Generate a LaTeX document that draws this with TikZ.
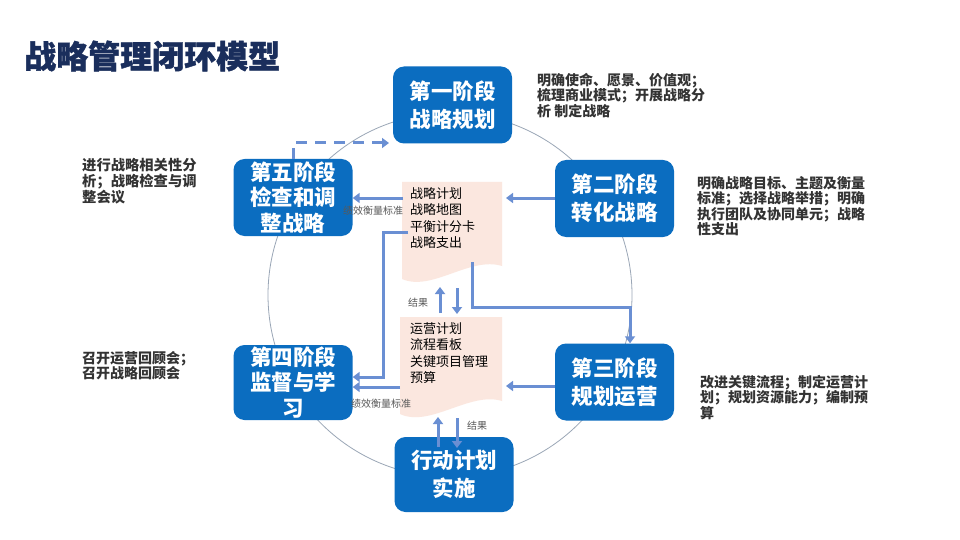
\documentclass[tikz,border=0pt]{standalone}
\usepackage{fontspec}
\setmainfont{Noto Sans CJK SC}
\newfontfamily\titlefont[BoldFeatures={FakeBold=1.2}]{Noto Sans CJK SC}
\usetikzlibrary{arrows.meta}
\definecolor{boxblue}{HTML}{0B6DC0}
\definecolor{titleblue}{HTML}{1A2E5C}
\definecolor{arrowblue}{HTML}{6A8FD3}
\definecolor{docfill}{HTML}{FBE7DF}
\definecolor{ringgray}{HTML}{9AA6B6}
\definecolor{sidetext}{HTML}{333333}
\begin{document}
\begin{tikzpicture}[x=1pt,y=-1pt,
  stagebox/.style={fill=boxblue, rounded corners=11pt, minimum width=119pt, minimum height=77pt,
    text=white, font=\fontsize{21.5}{28}\selectfont\bfseries, align=center, inner sep=0pt},
  stageboxthree/.style={stagebox, font=\fontsize{21.5}{25.5}\selectfont\bfseries},
  sidenote/.style={anchor=north west, inner sep=0pt, align=left, text=sidetext,
    font=\fontsize{14}{15.5}\selectfont\bfseries},
  doctext/.style={anchor=north west, inner sep=0pt, align=left, text=black,
    font=\fontsize{13}{16.5}\selectfont},
  smalllabel/.style={inner sep=0pt, text=black!65, font=\fontsize{10}{12}\selectfont},
  flow/.style={draw=arrowblue, line width=3pt, -{Triangle[length=7pt,width=10pt]}},
  flowdash/.style={flow, dash pattern=on 11pt off 8pt},
  ring/.style={draw=ringgray, line width=0.8pt},
  docshape/.style={fill=docfill}
]
\useasboundingbox (0,0) rectangle (960,540);
\fill[white] (0,0) rectangle (960,540);

% title
\node[anchor=west, inner sep=0pt, font=\fontsize{32}{32}\selectfont\titlefont\bfseries, text=titleblue] (title) at (24,56) {战略管理闭环模型};

% ring
\draw[ring] (450,295) circle[radius=182];

% documents
\fill[docshape] (402,182) -- (502,182) -- (502,266) .. controls (470,256) and (432,292) .. (402,279) -- cycle;
\fill[docshape] (400,317) -- (502,317) -- (502,401) .. controls (470,391) and (430,428) .. (400,414) -- cycle;

\node[doctext] (doca) at (410,187) {战略计划\\战略地图\\平衡计分卡\\战略支出};
\node[doctext] (docb) at (410,322) {运营计划\\流程看板\\关键项目管理\\预算};

% stage boxes
\node[stagebox] (s1) at (452.5,105) {第一阶段\\战略规划};
\node[stagebox] (s2) at (614.5,198.5) {第二阶段\\转化战略};
\node[stagebox] (s3) at (614.5,382) {第三阶段\\规划运营};
\node[stagebox, minimum height=75pt] (s4) at (454,474.5) {行动计划\\实施};
\node[stageboxthree] (s5) at (293,197.5) {第五阶段\\检查和调\\整战略};
\node[stageboxthree, minimum height=75pt] (s6) at (293,382.5) {第四阶段\\监督与学\\习};

% side notes
\node[sidenote] (n1) at (537,73) {明确使命、愿景、价值观；\\梳理商业模式；开展战略分\\析 制定战略};
\node[sidenote] (n2) at (697,176) {明确战略目标、主题及衡量\\标准；选择战略举措；明确\\执行团队及协同单元；战略\\性支出};
\node[sidenote] (n3) at (700,375) {改进关键流程；制定运营计\\划；规划资源能力；编制预\\算};
\node[sidenote, font=\fontsize{14.3}{16}\selectfont\bfseries] (n5) at (82,158) {进行战略相关性分\\析；战略检查与调\\整会议};
\node[sidenote] (n6) at (82,351) {召开运营回顾会；\\召开战略回顾会};

% connector coordinates
\coordinate (dashend) at (389,143);
\coordinate (daleft) at (403,198);
\coordinate (daright) at (506,198);
\coordinate (dascore) at (408,232);
\coordinate (daturn) at (383,232);
\coordinate (daout) at (472,262);
\coordinate (daturnb) at (630,307);
\coordinate (dbleft) at (400,387);
\coordinate (dbright) at (506,386);

% arrows
\draw[flowdash] (s5.north) |- (dashend);
\draw[flow] (daleft) -- (daleft -| s5.east);
\draw[flow] (s2.west |- daright) -- (daright);
\draw[flow] (dascore) -- (daturn) |- (s6.east |- 0,377);
\draw[flow] (dbleft) -- (s6.east |- dbleft);
\draw[flow] (s3.west |- dbright) -- (dbright);
\draw[flow] (daout) |- (daturnb) -- (daturnb |- s3.north);

\draw[flow] (440,313) -- (440,287);
\draw[flow] (457,288) -- (457,314);
\draw[flow] (438,447) -- (438,417);
\draw[flow] (457,418) -- (457,448);

% labels
\node[smalllabel] (la) at (373,211) {绩效衡量标准};
\node[smalllabel] (lb) at (381,404) {绩效衡量标准};
\node[smalllabel] (lc) at (418,303) {结果};
\node[smalllabel] (ld) at (477,426) {结果};
\end{tikzpicture}
\end{document}
